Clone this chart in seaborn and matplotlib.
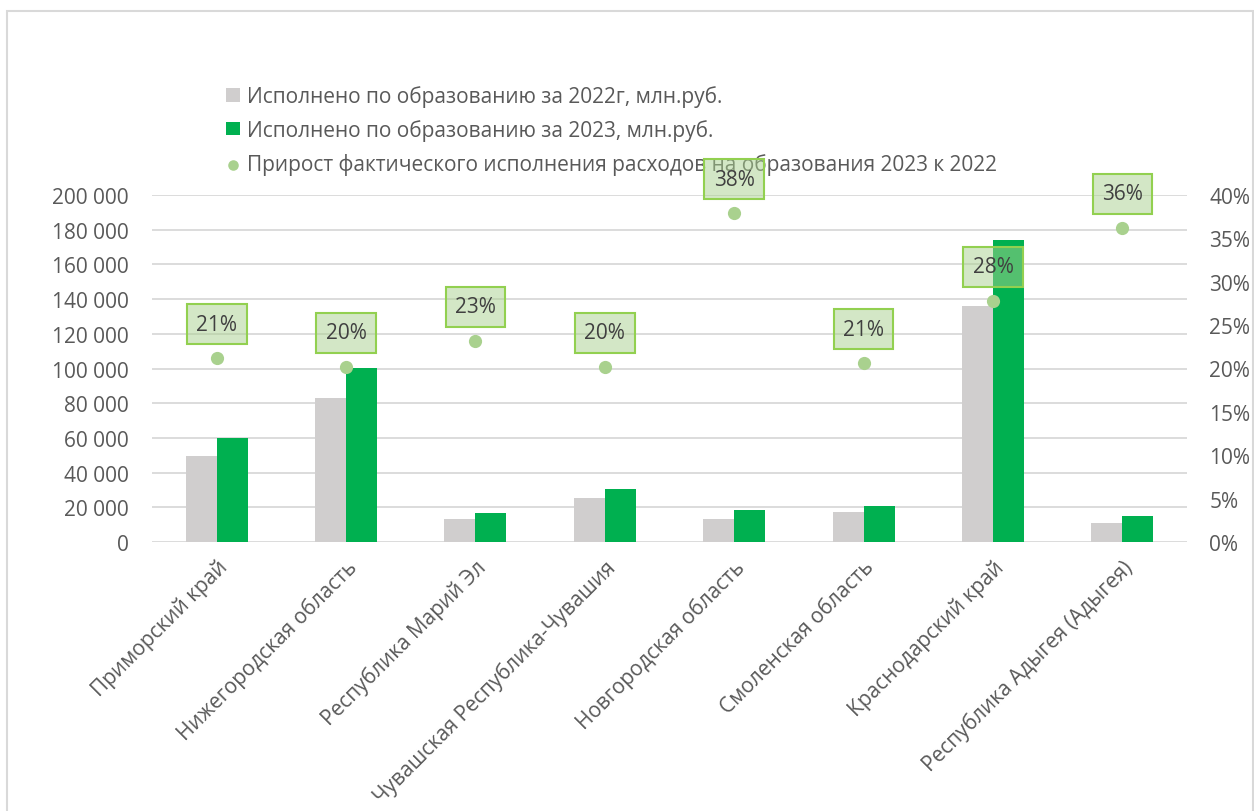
import numpy as np
import pandas as pd
import seaborn as sns
import matplotlib.pyplot as plt
from matplotlib.ticker import FuncFormatter, MultipleLocator
from matplotlib.patches import Rectangle

# values
regions = ["Приморский край", "Нижегородская область", "Республика Марий Эл",
           "Чувашская Республика-Чувашия", "Новгородская область",
           "Смоленская область", "Краснодарский край", "Республика Адыгея (Адыгея)"]
spent_2022 = [49500, 83200, 13500, 25600, 13300, 17100, 135800, 10800]
spent_2023 = [60000, 100200, 16700, 30600, 18200, 20800, 173900, 15000]
growth = [0.212, 0.202, 0.232, 0.202, 0.379, 0.206, 0.278, 0.362]

s22 = "Исполнено по образованию за 2022г, млн.руб."
s23 = "Исполнено по образованию за 2023, млн.руб."
s_growth = "Прирост фактического исполнения расходов на образования 2023 к 2022"

GRAY = "#D0CECE"
GREEN = "#00B050"
DOT = "#A9D18E"
TXT = "#595959"
GRID = "#D9D9D9"

sns.set_theme(style="white")
plt.rcParams["font.family"] = ["Open Sans", "DejaVu Sans"]
FS = 15

bars = pd.DataFrame({
    "region": regions * 2,
    "value": spent_2022 + spent_2023,
    "series": [s22] * len(regions) + [s23] * len(regions),
})

fig = plt.figure(figsize=(12.54, 8.12), dpi=100)
ax = fig.add_axes([152 / 1254, 1 - 543 / 812, 1035 / 1254, 347 / 812])

sns.barplot(data=bars, x="region", y="value", hue="series", order=regions,
            palette=[GRAY, GREEN], width=0.48, gap=0, saturation=1,
            linewidth=0, ax=ax)
bar_handles, bar_labels = ax.get_legend_handles_labels()
ax.get_legend().remove()

ax.set_ylim(0, 200000)
ax.yaxis.set_major_locator(MultipleLocator(20000))
ax.yaxis.set_major_formatter(FuncFormatter(lambda v, p: f"{int(v):,}".replace(",", " ")))
ax.grid(axis="y", color=GRID, linewidth=1.3)
ax.set_axisbelow(True)
ax.set_xlabel("")
ax.set_ylabel("")
sns.despine(ax=ax, left=True, bottom=True)

ax2 = ax.twinx()
sns.stripplot(x=regions, y=growth, order=regions, jitter=False, color=DOT,
              size=9.5, linewidth=0, ax=ax2, label=s_growth, zorder=3)
ax2.set_xlim(-0.5, len(regions) - 0.5)
ax2.set_ylim(0, 0.40)
ax2.yaxis.set_major_locator(MultipleLocator(0.05))
ax2.yaxis.set_major_formatter(FuncFormatter(lambda v, p: f"{v:.0%}"))
ax2.set_ylabel("")
sns.despine(ax=ax2, left=True, bottom=True, right=True)

# data labels in boxes above the dots
pts = np.concatenate([c.get_offsets() for c in ax2.collections])
for (x, y), g in zip(pts, growth):
    ax2.annotate(f"{g:.0%}", xy=(x, y), xytext=(0, 24.5), textcoords="offset points",
                 ha="center", va="center", fontsize=FS, color="#404040", zorder=6,
                 bbox=dict(boxstyle="square,pad=0.45",
                           facecolor=(169 / 255, 209 / 255, 142 / 255, 0.5),
                           edgecolor="#92D050", linewidth=1.5))

ax.set_xlim(-0.5, len(regions) - 0.5)
ax.tick_params(axis="y", length=0, pad=17, labelsize=FS, labelcolor=TXT)
ax.tick_params(axis="x", length=0, pad=10, labelsize=FS, labelcolor=TXT)
ax2.tick_params(axis="y", length=0, pad=16, labelsize=FS, labelcolor=TXT)
ax.set_xticks(range(len(regions)))
ax.set_xticklabels(regions, rotation=45, ha="right", rotation_mode="anchor")

# legend
dot_handles, dot_labels = ax2.get_legend_handles_labels()
leg = ax2.legend(bar_handles + dot_handles[:1], bar_labels + dot_labels[:1],
                 loc="upper left", bbox_to_anchor=(226 / 1254, 1 - 86 / 812),
                 bbox_transform=fig.transFigure, frameon=False, fontsize=FS,
                 labelcolor=TXT, handlelength=0.65, handleheight=0.65,
                 handletextpad=0.35, labelspacing=0.58, markerscale=0.8,
                 borderpad=0, borderaxespad=0)
leg.set_zorder(5)

# chart area frame
fig.add_artist(Rectangle((7 / 1254, -0.1), 1246 / 1254, 1.1 - 12 / 812,
                         transform=fig.transFigure, fill=False,
                         edgecolor=GRID, linewidth=1.5))

fig.savefig("out.png", dpi=100)
